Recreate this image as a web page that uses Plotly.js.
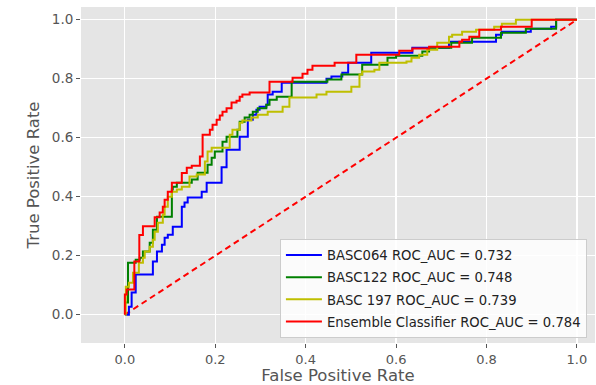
<!DOCTYPE html>
<html>
<head>
<meta charset="utf-8">
<script src="https://cdn.plot.ly/plotly-3.0.1.min.js"></script>
<style>html,body{margin:0;padding:0;background:#fff}#chart{width:596px;height:385px}</style>
</head>
<body>
<div id="chart"></div>
<script>
// Step-curve vertices (top of each vertical jump), drawn with line shape 'hv'
const seriesNames = ["BASC064 ROC_AUC = 0.732", "BASC122 ROC_AUC = 0.748", "BASC 197 ROC_AUC = 0.739", "Ensemble Classifier ROC_AUC = 0.784"];
const seriesColors = ["#0000ff", "#008000", "#bfbf00", "#ff0000"];

const fprBASC064 = [0, 0.009, 0.015, 0.024, 0.062, 0.071, 0.082, 0.088, 0.095, 0.106, 0.126, 0.132, 0.139, 0.170, 0.181, 0.214, 0.225, 0.254, 0.272, 0.283, 0.291, 0.298, 0.313, 0.316, 0.327, 0.347, 0.446, 0.457, 0.481, 0.494, 0.545, 0.636, 0.717, 0.821, 0.834, 0.898, 0.943, 0.954, 1.0];
const tprBASC064 = [0, 0.027, 0.075, 0.136, 0.180, 0.214, 0.237, 0.261, 0.271, 0.298, 0.366, 0.380, 0.397, 0.417, 0.447, 0.500, 0.559, 0.603, 0.661, 0.678, 0.695, 0.705, 0.712, 0.746, 0.756, 0.786, 0.800, 0.807, 0.820, 0.854, 0.888, 0.905, 0.925, 0.949, 0.959, 0.969, 0.976, 1.0, 1.0];

const fprBASC122 = [0, 0.007, 0.024, 0.033, 0.040, 0.055, 0.062, 0.071, 0.104, 0.106, 0.115, 0.148, 0.161, 0.183, 0.192, 0.199, 0.216, 0.225, 0.249, 0.254, 0.265, 0.276, 0.283, 0.294, 0.313, 0.320, 0.336, 0.369, 0.448, 0.479, 0.525, 0.581, 0.600, 0.658, 0.673, 0.722, 0.768, 0.832, 0.887, 0.954, 1.0];
const tprBASC122 = [0.041, 0.176, 0.186, 0.193, 0.214, 0.244, 0.288, 0.332, 0.424, 0.434, 0.447, 0.458, 0.481, 0.508, 0.532, 0.553, 0.586, 0.603, 0.627, 0.654, 0.668, 0.678, 0.688, 0.700, 0.712, 0.729, 0.739, 0.790, 0.797, 0.814, 0.847, 0.871, 0.878, 0.892, 0.905, 0.922, 0.939, 0.956, 0.969, 1.0, 1.0];

const fprBASC197 = [0, 0.002, 0.009, 0.018, 0.031, 0.040, 0.044, 0.055, 0.062, 0.066, 0.073, 0.084, 0.088, 0.095, 0.104, 0.115, 0.126, 0.143, 0.159, 0.177, 0.183, 0.192, 0.232, 0.238, 0.254, 0.260, 0.280, 0.294, 0.316, 0.349, 0.364, 0.424, 0.446, 0.501, 0.519, 0.525, 0.552, 0.563, 0.623, 0.634, 0.651, 0.669, 0.691, 0.717, 0.724, 0.746, 0.777, 0.817, 0.834, 0.865, 1.0];
const tprBASC197 = [0, 0.095, 0.108, 0.142, 0.176, 0.193, 0.214, 0.230, 0.254, 0.281, 0.312, 0.339, 0.366, 0.400, 0.417, 0.424, 0.434, 0.468, 0.475, 0.519, 0.553, 0.566, 0.610, 0.627, 0.651, 0.658, 0.668, 0.678, 0.688, 0.705, 0.736, 0.746, 0.756, 0.773, 0.814, 0.824, 0.830, 0.854, 0.858, 0.871, 0.881, 0.898, 0.922, 0.942, 0.949, 0.959, 0.966, 0.976, 0.986, 1.0, 1.0];

const fprEnsemble = [0, 0, 0.004, 0.021, 0.032, 0.040, 0.066, 0.077, 0.084, 0.088, 0.095, 0.104, 0.126, 0.137, 0.148, 0.166, 0.172, 0.188, 0.194, 0.203, 0.210, 0.216, 0.225, 0.236, 0.247, 0.254, 0.260, 0.276, 0.320, 0.371, 0.393, 0.404, 0.415, 0.464, 0.512, 0.607, 0.636, 0.673, 0.740, 0.746, 0.762, 0.784, 0.832, 0.900, 1.0];
const tprEnsemble = [0, 0.068, 0.085, 0.180, 0.270, 0.300, 0.330, 0.346, 0.366, 0.390, 0.417, 0.447, 0.480, 0.498, 0.505, 0.536, 0.610, 0.627, 0.644, 0.661, 0.675, 0.688, 0.700, 0.719, 0.725, 0.739, 0.746, 0.753, 0.790, 0.803, 0.817, 0.830, 0.844, 0.854, 0.881, 0.895, 0.902, 0.908, 0.925, 0.932, 0.942, 0.966, 0.976, 1.0, 1.0];

const chanceX = [0, 1];
const chanceY = [0, 1];

const xTicks = [0, 0.2, 0.4, 0.6, 0.8, 1.0];
const xTickText = ["0.0", "0.2", "0.4", "0.6", "0.8", "1.0"];
const yTicks = [0, 0.2, 0.4, 0.6, 0.8, 1.0];
const yTickText = ["0.0", "0.2", "0.4", "0.6", "0.8", "1.0"];

const xs = [fprBASC064, fprBASC122, fprBASC197, fprEnsemble];
const ys = [tprBASC064, tprBASC122, tprBASC197, tprEnsemble];

const traces = [{
  x: chanceX, y: chanceY, mode: 'lines', showlegend: false, hoverinfo: 'skip',
  line: {color: '#ff0000', width: 2, dash: '6px,4px'}
}];
for (let i = 0; i < 4; i++) {
  traces.push({
    x: xs[i], y: ys[i], mode: 'lines', name: seriesNames[i], legendgroup: 'g' + i,
    line: {color: seriesColors[i], width: 2, shape: 'hv'}
  });
}

const layout = {
  width: 596, height: 385,
  margin: {l: 81, r: 1, t: 7, b: 42},
  paper_bgcolor: '#ffffff', plot_bgcolor: '#e5e5e5',
  font: {family: 'DejaVu Sans, sans-serif', color: '#555555'},
  showlegend: true,
  xaxis: {
    range: [-0.097, 1.04], tickvals: xTicks, ticktext: xTickText,
    showgrid: true, gridcolor: '#ffffff', gridwidth: 1.2, zeroline: false,
    ticks: 'outside', ticklen: 4, tickcolor: '#555555', showline: false,
    tickfont: {family: 'DejaVu Sans, sans-serif', size: 13, color: '#555555'},
    title: {text: 'False Positive Rate', font: {family: 'DejaVu Sans, sans-serif', size: 16.5, color: '#555555'}, standoff: 7}
  },
  yaxis: {
    range: [-0.096, 1.043], tickvals: yTicks, ticktext: yTickText,
    showgrid: true, gridcolor: '#ffffff', gridwidth: 1.2, zeroline: false,
    ticks: 'outside', ticklen: 4, tickcolor: '#555555', showline: false,
    tickfont: {family: 'DejaVu Sans, sans-serif', size: 13.5, color: '#555555'},
    title: {text: 'True Positive Rate', font: {family: 'DejaVu Sans, sans-serif', size: 16.5, color: '#555555'}, standoff: 8}
  },
  legend: {
    x: 0.387, y: 0.015, xanchor: 'left', yanchor: 'bottom',
    bgcolor: 'rgba(255,255,255,0.85)', bordercolor: '#cccccc', borderwidth: 1,
    font: {family: 'DejaVu Sans, sans-serif', size: 13.2, color: '#222222'},
    tracegroupgap: 2, itemwidth: 36
  }
};

Plotly.newPlot('chart', traces, layout, {displayModeBar: false, staticPlot: true});
</script>
</body>
</html>
